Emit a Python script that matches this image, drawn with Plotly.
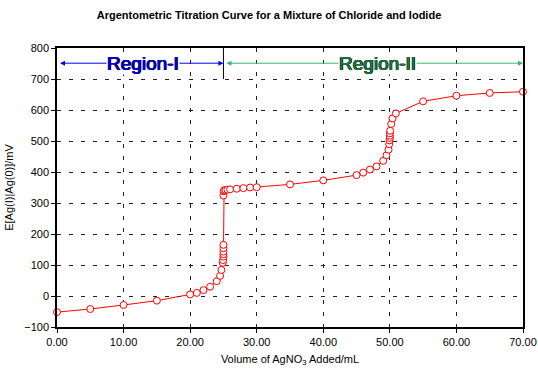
import plotly.graph_objects as go

# Titration data (volume of AgNO3 in mL, potential in mV)
volume = [0.0, 5.0, 10.0, 15.0, 20.0, 21.0, 22.0, 23.0, 24.0, 24.5, 24.7,
          24.9, 24.95, 25.0, 25.0, 25.0, 25.0, 25.0, 25.0, 25.05, 25.1,
          25.3, 25.6, 26.0, 27.0, 28.0, 29.0, 30.0, 35.0, 40.0, 45.0,
          46.0, 47.0, 48.0, 49.0, 49.5, 49.8, 49.9, 49.95, 50.0, 50.0,
          50.0, 50.05, 50.2, 50.4, 50.9, 55.0, 60.0, 65.0, 70.0]
potential = [-52, -42, -29, -15, 5, 10, 19, 30, 48, 65, 84,
             107, 116, 127, 135, 143, 154, 165, 324, 338, 341,
             342, 343, 344, 346, 348, 350, 351, 360, 373, 390,
             398, 408, 418, 436, 454, 472, 490, 502, 510, 517,
             525, 533, 555, 573, 589, 628, 646, 655, 659]

x_ticks = [0, 10, 20, 30, 40, 50, 60, 70]
y_ticks = [-100, 0, 100, 200, 300, 400, 500, 600, 700, 800]

region_labels = ["Region-I", "Region-II"]
region_bounds = [(0, 25), (25, 70)]
region_text_x = [12.9, 48.2]
region_arrow_y = 751
divider_x = 25
divider_y = (700, 800)

FONT = "Liberation Sans, Arial, sans-serif"

fig = go.Figure()
fig.add_trace(go.Scatter(
    x=volume, y=potential, mode="lines+markers",
    line=dict(color="#FF0000", width=1),
    marker=dict(symbol="circle", size=7, color="white",
                line=dict(color="#FF0000", width=1)),
    showlegend=False, cliponaxis=False,
))

fig.add_shape(type="line", x0=divider_x, x1=divider_x, y0=divider_y[0], y1=divider_y[1],
              xref="x", yref="y", line=dict(color="black", width=1))

arrow_colors = ["#0000FF", "#3CB371"]
text_colors = ["#0000DD", "#1E7A45"]
outline_colors = ["#000044", "#002211"]
for lab, (a, b), tx, ac, tc, oc in zip(region_labels, region_bounds, region_text_x,
                                       arrow_colors, text_colors, outline_colors):
    fig.add_annotation(x=b, y=region_arrow_y, ax=a, ay=region_arrow_y,
                       xref="x", yref="y", axref="x", ayref="y", text=" ",
                       showarrow=True, arrowhead=2, arrowside="end+start",
                       arrowsize=1, arrowwidth=1, arrowcolor=ac, standoff=0,
                       startstandoff=0)
    sh = (f"0.45px 0.45px 0 {oc}, -0.45px -0.45px 0 {oc}, "
          f"0.45px -0.45px 0 {oc}, -0.45px 0.45px 0 {oc}")
    fig.add_annotation(x=tx, y=region_arrow_y, xref="x", yref="y", text=lab,
                       showarrow=False, bgcolor="white", borderpad=0,
                       font=dict(family="Liberation Sans Narrow, Arial Narrow, Liberation Sans",
                                 size=19, color=tc, shadow=sh))

axis_common = dict(showline=True, linecolor="black", linewidth=1.5, mirror=True,
                   showgrid=True, gridcolor="#222222", gridwidth=1, griddash="4px,8px",
                   ticks="outside", ticklen=4, tickcolor="black",
                   tickfont=dict(family=FONT, size=11, color="black"),
                   zeroline=False, automargin=False)

fig.update_xaxes(range=[0, 70], tickvals=x_ticks, tickformat=".2f",
                 title=dict(text="Volume of AgNO<sub>3</sub> Added/mL",
                            font=dict(family=FONT, size=11, color="black"), standoff=8),
                 **axis_common)
fig.update_yaxes(range=[-100, 800], tickvals=y_ticks,
                 title=dict(text="E[Ag(I)|Ag(0)]/mV",
                            font=dict(family=FONT, size=11, color="black"), standoff=8),
                 **axis_common)

fig.update_layout(
    width=538, height=369,
    margin=dict(l=57, r=15, t=48, b=42),
    paper_bgcolor="white", plot_bgcolor="white",
    title=dict(text="<b>Argentometric Titration Curve for a Mixture of Chloride and Iodide</b>",
               x=0.5, xanchor="center", y=0.96, yanchor="middle",
               font=dict(family=FONT, size=11, color="black")),
    font=dict(family=FONT),
)

# Remove the default page margin so the figure fills the window exactly.
fig.write_html("out.html", config={"displayModeBar": False},
               post_script="document.body.style.margin='0';document.body.style.overflow='hidden';")
